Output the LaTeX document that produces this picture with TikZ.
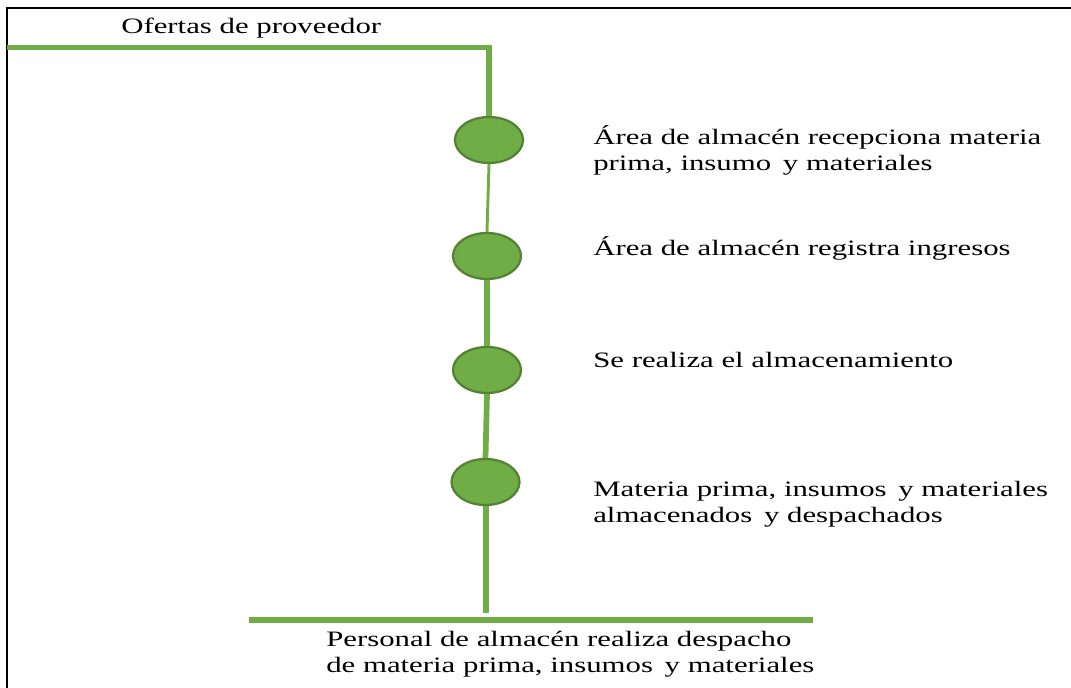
\documentclass[tikz,border=0pt]{standalone}
\usepackage{fontspec}
\setmainfont{Liberation Serif}
\newfontfamily\widefont[FakeStretch=1.4]{Liberation Serif}
\usetikzlibrary{shapes.geometric}
\definecolor{lgreen}{HTML}{70AD47}
\definecolor{dgreen}{HTML}{548235}
\begin{document}
\begin{tikzpicture}[x=0.75pt,y=-0.75pt,
  dot/.style={ellipse, fill=lgreen, draw=dgreen, line width=1.7pt, minimum width=51pt, minimum height=34.5pt, inner sep=0pt},
  stem/.style={draw=lgreen, line width=4.5pt},
  thinstem/.style={draw=lgreen, line width=2.2pt},
  frame/.style={draw=black, line width=1.8pt},
  lbl/.style={font=\widefont\fontsize{16.5}{19.5}\selectfont, align=left, inner sep=0pt, anchor=base west},
]
\useasboundingbox (0,0) rectangle (1071,688);
\draw[frame] (7,688) -- (7,8) -- (1071,8);

\node[dot] (e1) at (489,140) {};
\node[dot] (e2) at (487,256) {};
\node[dot] (e3) at (487,370) {};
\node[dot] (e4) at (485.5,482) {};

\coordinate (tl) at (10,47.5);
\coordinate (tc) at (489,47.5);
\coordinate (bend) at (485.5,613);
\coordinate (bl) at (249,620);
\coordinate (br) at (813,620);

\draw[stem, line cap=rect, line width=3.8pt] (tl) -- (tc);
\draw[stem, line width=5pt] (tc) -- (e1.north);
\draw[thinstem] (e1.south) -- (e2.north);
\draw[stem, line width=5pt] (e2.south) -- (e3.north);
\draw[stem, line width=4.3pt] (e3.south) -- (e4.north);
\draw[stem] (e4.south) -- (bend);
\draw[stem, line width=3.8pt] (bl) -- (br);

\node[lbl] (t0) at (121,34) {Ofertas de proveedor};
\node[lbl] (t1) at (593,171) {Área de almacén recepciona materia\\prima, insumo\hspace{3pt} y materiales};
\node[lbl] (t2) at (593,255) {Área de almacén registra ingresos};
\node[lbl] (t3) at (593,367) {Se realiza el almacenamiento};
\node[lbl] (t4) at (593,522) {Materia prima, insumos\hspace{3pt} y materiales\\almacenados\hspace{3pt} y despachados};
\node[lbl] (t5) at (326,672) {Personal de almacén realiza despacho\\de materia prima, insumos\hspace{3pt} y materiales};
\end{tikzpicture}
\end{document}
